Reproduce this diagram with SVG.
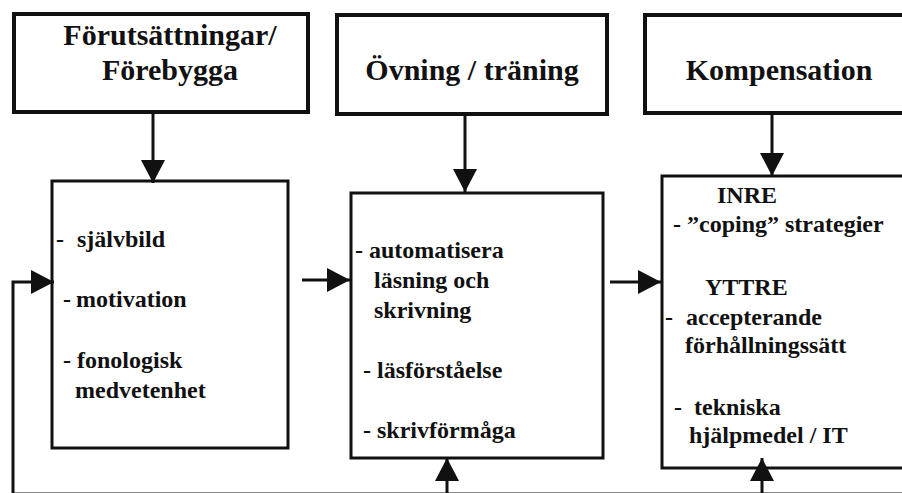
<svg xmlns="http://www.w3.org/2000/svg" width="902" height="493" viewBox="0 0 902 493">
<style>
.top{fill:#fff;stroke:#111;stroke-width:4}
.box{fill:#fff;stroke:#111;stroke-width:3}
.h{font-family:"Liberation Serif","Times New Roman",serif;font-weight:bold;font-size:30px;fill:#111;text-anchor:middle}
.t{font-family:"Liberation Serif","Times New Roman",serif;font-weight:bold;font-size:24px;fill:#111}
.c{fill:none;stroke:#111;stroke-width:3}
</style>
<defs>
<marker id="ah" markerUnits="userSpaceOnUse" markerWidth="23" markerHeight="24" refX="23" refY="12" orient="auto" viewBox="0 0 23 24">
<path d="M0,0 L23,12 L0,24 z" fill="#111"/>
</marker>
</defs>
<rect width="902" height="493" fill="#fff"/>
<g id="top1"><rect class="top" x="14" y="14" width="294" height="98"/>
<text class="h" x="170" y="45">Förutsättningar/</text>
<text class="h" x="170" y="80">Förebygga</text></g>
<g id="top2"><rect class="top" x="337" y="15" width="270" height="99"/>
<text class="h" x="472" y="80">Övning / träning</text></g>
<g id="top3"><rect class="top" x="645" y="15" width="270" height="98"/>
<text class="h" x="779" y="80">Kompensation</text></g>
<g id="box1"><rect class="box" x="52" y="181" width="236" height="267"/>
<text class="t" x="56" y="247">-</text><text class="t" x="77" y="247">självbild</text>
<text class="t" x="63" y="307" fill="#8b1a1a">-</text><text class="t" x="76" y="307">motivation</text>
<text class="t" x="63" y="368">- fonologisk</text>
<text class="t" x="75" y="398">medvetenhet</text></g>
<g id="box2"><rect class="box" x="351" y="193" width="252" height="265"/>
<text class="t" x="355" y="258">- automatisera</text>
<text class="t" x="374" y="288">läsning och</text>
<text class="t" x="374" y="318">skrivning</text>
<text class="t" x="363" y="378">- läsförståelse</text>
<text class="t" x="363" y="438">- skrivförmåga</text></g>
<g id="box3"><rect class="box" x="662" y="176" width="260" height="292"/>
<text class="t" x="717" y="203">INRE</text>
<text class="t" x="673" y="232">- ”coping” strategier</text>
<text class="t" x="705" y="295">YTTRE</text>
<text class="t" x="665" y="325">-</text><text class="t" x="686" y="325">accepterande</text>
<text class="t" x="685" y="353">förhållningssätt</text>
<text class="t" x="674" y="415">-</text><text class="t" x="694" y="415">tekniska</text>
<text class="t" x="689" y="443">hjälpmedel / IT</text></g>
<g id="connectors">
<line class="c" x1="153" y1="112" x2="153" y2="183" marker-end="url(#ah)"/>
<line class="c" x1="465" y1="114" x2="465" y2="192" marker-end="url(#ah)"/>
<line class="c" x1="772" y1="113" x2="772" y2="176" marker-end="url(#ah)"/>
<line class="c" x1="302" y1="280" x2="350" y2="280" marker-end="url(#ah)"/>
<line class="c" x1="610" y1="282" x2="661" y2="282" marker-end="url(#ah)"/>
<path class="c" d="M902,494 H13 V282 H54" marker-end="url(#ah)"/>
<line class="c" x1="447" y1="494" x2="447" y2="458" marker-end="url(#ah)"/>
<line class="c" x1="762" y1="494" x2="762" y2="458" marker-end="url(#ah)"/>
</g>
</svg>
